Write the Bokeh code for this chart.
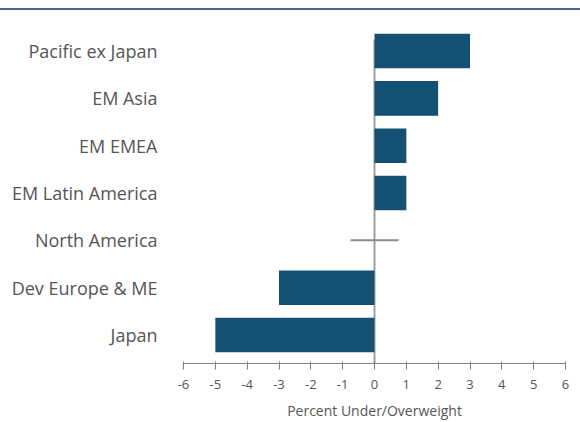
from bokeh.plotting import figure
from bokeh.models import Range1d, FixedTicker, ColumnDataSource
from bokeh.embed import file_html
from bokeh.resources import INLINE

# ---- data ----
categories = ["Japan", "Dev Europe & ME", "North America", "EM Latin America",
              "EM EMEA", "EM Asia", "Pacific ex Japan"]
values = [-5, -3, 0, 1, 1, 2, 3]
x_ticks = [-6, -5, -4, -3, -2, -1, 0, 1, 2, 3, 4, 5, 6]
x_tick_labels = ["-6", "-5", "-4", "-3", "-2", "-1", "0", "1", "2", "3", "4", "5", "6"]
x_title = "Percent Under/Overweight"

# ---- style ----
BAR = "#144f74"
TXT = "#555555"
AX = "#808080"
FONT = "Open Sans"

pos = list(range(len(categories)))
bar_src = ColumnDataSource(dict(y=[p_ for p_, v in zip(pos, values) if v != 0],
                                v=[v for v in values if v != 0]))
neutral_src = ColumnDataSource(dict(y=[p_ for p_, v in zip(pos, values) if v == 0],
                                    v=[v for v in values if v == 0]))

y_start = -0.602
p = figure(frame_width=382, frame_height=342,
           x_range=Range1d(x_ticks[0], x_ticks[-1]),
           y_range=Range1d(y_start, len(categories) - 1 + 0.624),
           output_backend="svg", toolbar_location=None,
           min_border_left=183, min_border_right=15, min_border_top=11,
           min_border_bottom=40)
p.styles = {"margin-top": "8px", "border-top": "2px solid #46698c"}
p.outline_line_color = None
p.grid.visible = False
p.background_fill_color = "white"
p.border_fill_color = "white"

# zero reference line
p.segment(x0=[0], y0=[y_start], x1=[0], y1=[len(categories) - 1 + 0.24],
          line_color="#a0a0a0", line_width=2)

p.hbar(y="y", left=0, right="v", height=0.73, source=bar_src,
       fill_color=BAR, line_color=None)
p.scatter(x="v", y="y", marker="dash", size=48, source=neutral_src,
          line_color="#8c8c8c", line_width=2)

xa = p.xaxis[0]
xa.ticker = FixedTicker(ticks=x_ticks)
xa.major_label_overrides = dict(zip(x_ticks, x_tick_labels))
xa.minor_tick_line_color = None
xa.axis_line_color = AX
xa.major_tick_line_color = AX
xa.major_tick_out = 6
xa.major_tick_in = 2
xa.major_label_standoff = 10
xa.major_label_text_font = FONT
xa.major_label_text_font_size = "13px"
xa.major_label_text_color = TXT
xa.axis_label = x_title
xa.axis_label_text_font = FONT
xa.axis_label_text_font_size = "14px"
xa.axis_label_text_font_style = "normal"
xa.axis_label_text_color = TXT
xa.axis_label_standoff = 9

ya = p.yaxis[0]
ya.ticker = FixedTicker(ticks=pos)
ya.major_label_overrides = dict(zip(pos, categories))
ya.axis_line_color = None
ya.major_tick_line_color = None
ya.minor_tick_line_color = None
ya.major_tick_out = 0
ya.major_tick_in = 0
ya.major_label_standoff = 26
ya.major_label_text_font = FONT
ya.major_label_text_font_size = "18px"
ya.major_label_text_color = TXT

open("out.html", "w").write(file_html(p, INLINE))
